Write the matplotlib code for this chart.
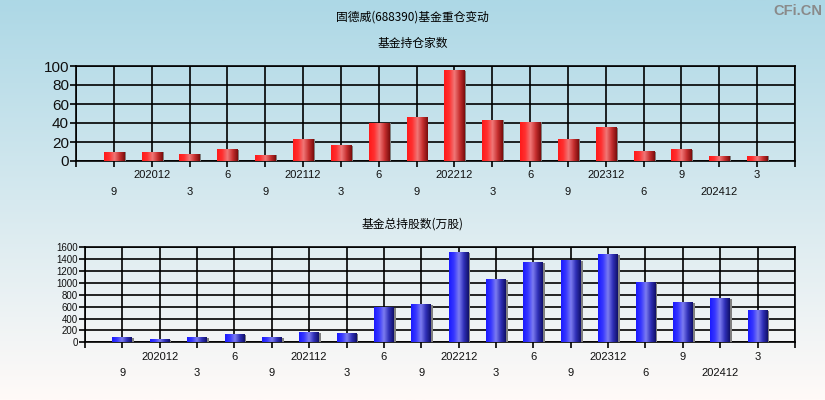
import matplotlib
matplotlib.use('Agg')
import matplotlib.pyplot as plt
import numpy as np
from matplotlib.colors import LinearSegmentedColormap
from matplotlib import transforms

plt.rcParams['font.family'] = ['Liberation Sans', 'Noto Sans CJK SC', 'DejaVu Sans']

# quarter labels (2020-09 .. 2025-03, 2024-03 missing in source)
labels = ['9', '202012', '3', '6', '9', '202112', '3', '6', '9',
          '202212', '3', '6', '9', '202312', '6', '9', '202412', '3']
# number of funds holding
fund_count = [9, 9, 7, 12, 6, 23, 16, 40, 46, 95, 43, 41, 23, 35, 10, 12, 5, 5]
# total shares held by funds (10k shares)
total_shares = [73, 39, 73, 124, 73, 157, 140, 578, 629, 1505, 1050, 1336,
                1370, 1471, 999, 662, 730, 528]

red_cmap = LinearSegmentedColormap.from_list(
    'red', ['#ff1a1a', '#ff3030', '#f07878', '#c83030', '#7a0c0c'])
blue_cmap = LinearSegmentedColormap.from_list(
    'blue', ['#1a1aff', '#3838ff', '#7c7cf0', '#3030b8', '#10106a'])


def gradient_bars(ax, x, vals, cmap, width=0.53):
    grad = np.linspace(0, 1, 64).reshape(1, -1)
    for xi, v in zip(x, vals):
        if v <= 0:
            continue
        # shadow strip
        ax.add_patch(plt.Rectangle((xi + width / 2 - 0.02, 0), 0.07, v,
                                   color='#808080', zorder=3, lw=0))
        ax.imshow(grad, cmap=cmap, aspect='auto', zorder=4,
                  extent=(xi - width / 2, xi + width / 2, 0, v))


def setup(ax, vals, ymax, ystep, cmap, ytick_size, row_off):
    x = np.arange(1, len(vals) + 1)
    gradient_bars(ax, x, vals, cmap)
    ax.set_xlim(0, len(vals) + 1)
    ax.set_ylim(0, ymax)
    ax.set_facecolor('none')
    ax.set_yticks(np.arange(0, ymax + 1, ystep))
    ax.set_xticks(np.arange(0, len(vals) + 2))
    ax.set_xticklabels([])
    ax.grid(True, color='black', lw=1.2, zorder=1)
    ax.set_axisbelow(True)
    for s in ax.spines.values():
        s.set_linewidth(1.2)
    ax.tick_params(axis='x', length=4, width=1.2, direction='out')
    ax.tick_params(axis='y', length=4, width=1.2, labelsize=ytick_size,
                   pad=1, labelcolor='#101010')
    trans = transforms.blended_transform_factory(ax.transData, ax.transAxes)
    for i, lab in enumerate(labels):
        yoff = row_off[1] if i % 2 == 0 else row_off[0]
        ax.text(x[i], yoff, lab, transform=trans, ha='center', va='center',
                fontsize=8, color='#101010')


fig = plt.figure(figsize=(8.25, 4), dpi=100)

# background gradient
bg = fig.add_axes([0, 0, 1, 1], zorder=-10)
top = np.array([173, 216, 230]) / 255
bot = np.array([255, 250, 248]) / 255
t = np.linspace(0, 1, 256).reshape(-1, 1, 1)
bg.imshow(top * (1 - t) + bot * t, aspect='auto', extent=(0, 1, 0, 1))
bg.set_axis_off()

ax1 = fig.add_axes([0.0921, 0.5975, 0.8715, 0.2375])
setup(ax1, fund_count, 100, 20, red_cmap, 11, (-0.147, -0.33))

ax2 = fig.add_axes([0.103, 0.1443, 0.8606, 0.2375])
setup(ax2, total_shares, 1600, 200, blue_cmap, 7, (-0.158, -0.326))

cjk = ['Noto Sans CJK SC', 'DejaVu Sans']
fig.text(0.5, 0.957, '固德威(688390)基金重仓变动', ha='center', va='center',
         fontsize=8.5, family=cjk)
fig.text(0.5, 0.892, '基金持仓家数', ha='center', va='center',
         fontsize=8.5, family=cjk)
fig.text(0.5, 0.44, '基金总持股数(万股)', ha='center', va='center',
         fontsize=8.5, family=cjk)
fig.text(0.997, 0.973, 'CFi.CN', ha='right', va='center', fontsize=10.5,
         fontweight='bold', color='#8a8a8a')

fig.savefig('out.png', dpi=100)
